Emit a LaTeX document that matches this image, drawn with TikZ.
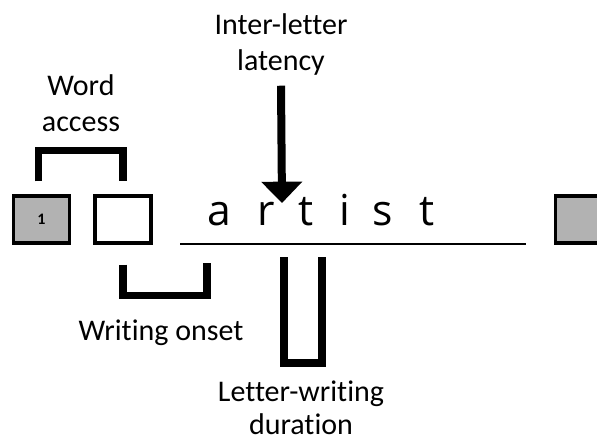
\documentclass[tikz,border=0pt]{standalone}
\usepackage{fontspec}
\setmainfont{Carlito}[Ligatures=NoCommon]
\newfontfamily\handfont{Open Sans}
\usetikzlibrary{arrows.meta}

\begin{document}
\begin{tikzpicture}[x=0.75pt, y=-0.75pt, line width=2.8pt]
    \tikzset{
        trialbox/.style={draw, minimum width=42pt, minimum height=35pt, inner sep=0pt},
        bracket/.style={line width=5.5pt},
        tasklabel/.style={align=center, anchor=north, inner sep=0pt, font=\fontsize{22.5}{26.5}\selectfont},
        letter/.style={anchor=base, inner sep=0pt, font=\handfont\fontsize{32}{32}\selectfont}
    }
    \useasboundingbox (0,0) rectangle (597,444);
    \clip (0,0) rectangle (597,444);
    % trial boxes
    \node[trialbox, fill=black!30, font=\bfseries\fontsize{12}{12}\selectfont] (first) at (41.5,219.5) {1};
    \node[trialbox] (blank) at (123,219.5) {};
    \node[trialbox, fill=black!30] (next) at (583.5,219.5) {};
    % the written word
    \draw[line width=1.5pt] (180,244) -- (526,244);
    \foreach \x/\c [count=\i] in {219/a, 266/r, 306/t, 345/i, 383/s, 427/t} {
        \node[letter] (l\i) at (\x,225) {\c};
    }
    \coordinate (gap) at (282,203);
    \coordinate (onset) at (207,263);
    % labels
    \node[tasklabel] (access) at (81,73) {Word\\access};
    \node[tasklabel] (latency) at (281,12) {Inter-letter\\latency};
    \node[tasklabel] (writing) at (161,318) {Writing onset};
    \node[tasklabel, font=\fontsize{22.5}{25}\selectfont] (duration) at (301,379) {Letter-writing\\duration};
    % brackets and arrow
    \draw[bracket] ([shift={(-3,-13)}]first.north) -- ++(0,-31) -| ([shift={(0,-13)}]blank.north);
    \draw[bracket] ([shift={(0,20)}]blank.south) -- ++(0,31) -| (onset);
    \draw[bracket] ([shift={(-22,32)}]l3.base) -- ++(0,106) -| ([shift={(16,32)}]l3.base);
    \draw[line width=6pt, -{Triangle[length=16pt, width=30pt]}] ([shift={(0,9)}]latency.south) -- (gap);
\end{tikzpicture}
\end{document}
